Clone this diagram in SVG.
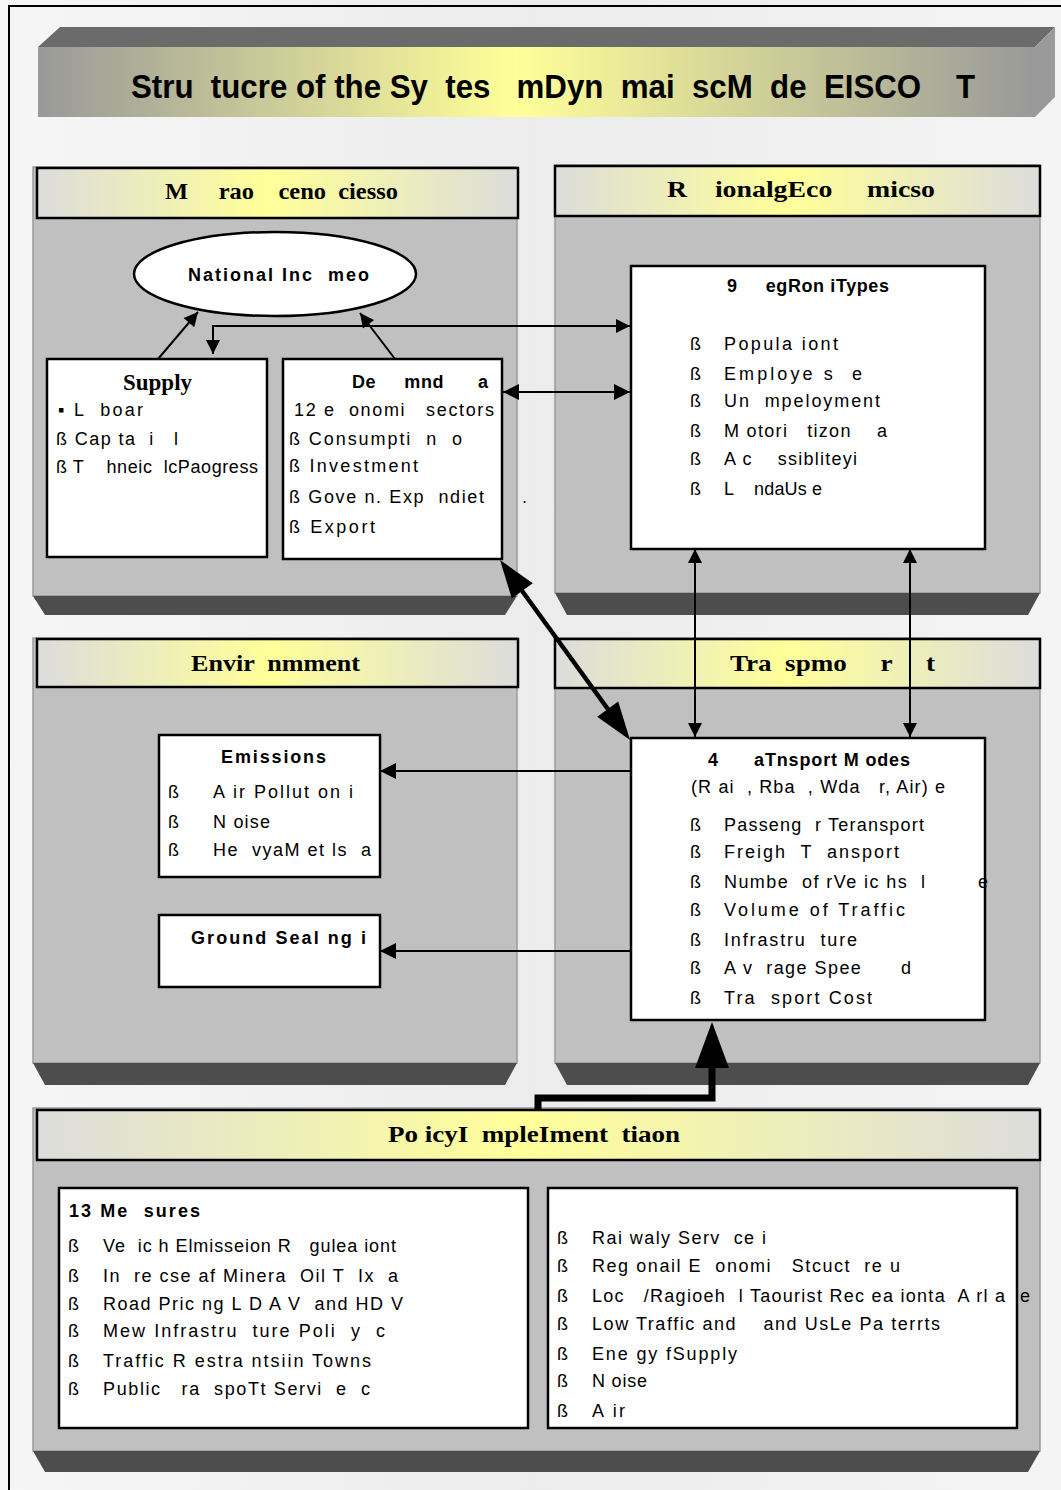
<svg xmlns="http://www.w3.org/2000/svg" width="1061" height="1490" viewBox="0 0 1061 1490" xml:space="preserve">
<style>
text { white-space: pre; }
.ttl { font-family: "Liberation Sans", Arial, sans-serif; font-weight: bold; font-size: 34px; fill: #000; }
.hdr { font-family: "Liberation Serif", "Times New Roman", serif; font-weight: bold; font-size: 24px; fill: #000; }
.t { font-family: "Liberation Sans", Arial, sans-serif; font-size: 18px; fill: #000; }
.tb { font-family: "Liberation Sans", Arial, sans-serif; font-size: 18px; font-weight: bold; fill: #000; }
.ts { font-family: "Liberation Serif", "Times New Roman", serif; font-size: 23px; font-weight: bold; fill: #000; }
.body { fill: #c0c0c0; stroke: #9a9a9a; stroke-width: 1.5; }
.hbar { fill: url(#hg); stroke: #000; stroke-width: 2.5; }
.shadow { fill: #4d4d4d; }
.box { fill: #fff; stroke: #000; stroke-width: 2.5; }
.ln { fill: none; stroke: #000; stroke-width: 2; }
</style>
<defs>
<linearGradient id="bg" x1="0" y1="0" x2="1" y2="0">
<stop offset="0" stop-color="#f6f6f6"/><stop offset="0.5" stop-color="#ececec"/><stop offset="1" stop-color="#f4f4f4"/>
</linearGradient>
<linearGradient id="hg" x1="0" y1="0" x2="1" y2="0">
<stop offset="0" stop-color="#dcdcdc"/><stop offset="0.48" stop-color="#ffff99"/><stop offset="1" stop-color="#dcdcdc"/>
</linearGradient>
<linearGradient id="tg" x1="0" y1="0" x2="1" y2="0">
<stop offset="0" stop-color="#999999"/><stop offset="0.48" stop-color="#ffff99"/><stop offset="1" stop-color="#999999"/>
</linearGradient>
<marker id="ah" viewBox="0 0 10 10" refX="10" refY="5" markerWidth="18" markerHeight="14" markerUnits="userSpaceOnUse" orient="auto-start-reverse">
<path d="M0,0 L10,5 L0,10 z" fill="#000"/>
</marker>
<marker id="ahm" viewBox="0 0 10 10" refX="10" refY="5" markerWidth="20" markerHeight="16" markerUnits="userSpaceOnUse" orient="auto-start-reverse">
<path d="M0,0 L10,5 L0,10 z" fill="#000"/>
</marker>
</defs>

<rect x="0" y="0" width="1061" height="1490" fill="url(#bg)"/>
<path d="M9,1490 V6 H1061" fill="none" stroke="#000" stroke-width="2"/>

<g id="title">
<polygon points="38,47 60,27 1055,27 1035,47" fill="#6b6b6b"/>
<polygon points="1035,47 1055,27 1055,97 1035,117" fill="#9a9a9a"/>
<rect x="38" y="47" width="997" height="70" fill="url(#tg)"/>
<text class="ttl" x="131" y="98" textLength="844" lengthAdjust="spacingAndGlyphs">Stru  tucre of the Sy  tes   mDyn  mai  scM  de  EISCO    T</text>
</g>

<g id="panel-macro">
<rect class="body" x="33" y="167" width="484" height="429"/>
<polygon class="shadow" points="33,596 517,596 505,615 45,615"/>
<rect class="hbar" x="37" y="168" width="481" height="50"/>
<text class="hdr" x="165" y="199" textLength="233" lengthAdjust="spacingAndGlyphs">M     rao    ceno  ciesso</text>
</g>

<g id="panel-regional">
<rect class="body" x="555" y="165" width="485" height="428"/>
<polygon class="shadow" points="555,593 1040,593 1028,615 567,615"/>
<rect class="hbar" x="555" y="166" width="485" height="50"/>
<text class="hdr" x="667" y="197" textLength="268" lengthAdjust="spacingAndGlyphs">R    ionalgEco     micso</text>
</g>

<g id="panel-environment">
<rect class="body" x="33" y="638" width="484" height="425"/>
<polygon class="shadow" points="33,1063 517,1063 505,1085 45,1085"/>
<rect class="hbar" x="37" y="639" width="481" height="48"/>
<text class="hdr" x="191" y="671" textLength="169" lengthAdjust="spacingAndGlyphs">Envir  nmment</text>
</g>

<g id="panel-transport">
<rect class="body" x="555" y="638" width="485" height="425"/>
<polygon class="shadow" points="555,1063 1040,1063 1028,1085 567,1085"/>
<rect class="hbar" x="555" y="639" width="485" height="49"/>
<text class="hdr" x="730" y="671" textLength="205" lengthAdjust="spacingAndGlyphs">Tra  spmo     r     t</text>
</g>

<g id="panel-policy">
<rect class="body" x="33" y="1108" width="1007" height="343"/>
<polygon class="shadow" points="33,1451 1040,1451 1028,1472 45,1472"/>
<rect class="hbar" x="37" y="1110" width="1003" height="50"/>
<text class="hdr" x="388" y="1142" textLength="292" lengthAdjust="spacingAndGlyphs">Po icyI  mpleIment  tiaon</text>
</g>

<g id="national-income">
<ellipse cx="275" cy="274" rx="141" ry="42" fill="#fff" stroke="#000" stroke-width="2.5"/>
<text class="tb" x="188" y="281" textLength="181" lengthAdjust="spacing">National Inc  meo</text>
</g>

<g id="supply">
<rect class="box" x="47" y="359" width="220" height="198"/>
<text class="ts" x="123" y="390">Supply</text>
<text class="t" x="58" y="416" textLength="85" lengthAdjust="spacing">▪ L  boar</text>
<text class="t" x="56" y="445" textLength="122" lengthAdjust="spacing">ß Cap ta  i   l</text>
<text class="t" x="56" y="473" textLength="202" lengthAdjust="spacing">ß T    hneic  lcPaogress</text>
</g>

<g id="demand">
<rect class="box" x="283" y="359" width="219" height="200"/>
<text class="tb" x="352" y="388" textLength="136" lengthAdjust="spacing">De     mnd      a</text>
<text class="t" x="294" y="416" textLength="200" lengthAdjust="spacing">12 e  onomi   sectors</text>
<text class="t" x="289" y="445" textLength="173" lengthAdjust="spacing">ß Consumpti  n  o</text>
<text class="t" x="289" y="472" textLength="129" lengthAdjust="spacing">ß Investment</text>
<text class="t" x="289" y="503" textLength="195" lengthAdjust="spacing">ß Gove n. Exp  ndiet</text>
<text class="t" x="522" y="503">.</text>
<text class="t" x="289" y="533" textLength="86" lengthAdjust="spacing">ß Export</text>
</g>

<g id="region-types">
<rect class="box" x="631" y="266" width="354" height="283"/>
<text class="tb" x="727" y="292" textLength="162" lengthAdjust="spacing">9     egRon iTypes</text>
<text class="t" x="690" y="350">ß</text><text class="t" x="724" y="350" textLength="114" lengthAdjust="spacing">Popula iont</text>
<text class="t" x="690" y="380">ß</text><text class="t" x="724" y="380" textLength="138" lengthAdjust="spacing">Employe s  e</text>
<text class="t" x="690" y="407">ß</text><text class="t" x="724" y="407" textLength="156" lengthAdjust="spacing">Un  mpeloyment</text>
<text class="t" x="690" y="437">ß</text><text class="t" x="724" y="437" textLength="163" lengthAdjust="spacing">M otori   tizon    a</text>
<text class="t" x="690" y="465">ß</text><text class="t" x="724" y="465" textLength="133" lengthAdjust="spacing">A c    ssibliteyi</text>
<text class="t" x="690" y="495">ß</text><text class="t" x="724" y="495" textLength="98" lengthAdjust="spacing">L    ndaUs e</text>
</g>

<g id="emissions">
<rect class="box" x="159" y="735" width="221" height="142"/>
<text class="tb" x="221" y="763" textLength="105" lengthAdjust="spacing">Emissions</text>
<text class="t" x="168" y="798">ß</text><text class="t" x="213" y="798" textLength="140" lengthAdjust="spacing">A ir Pollut on i</text>
<text class="t" x="168" y="828">ß</text><text class="t" x="213" y="828" textLength="57" lengthAdjust="spacing">N oise</text>
<text class="t" x="168" y="856">ß</text><text class="t" x="213" y="856" textLength="158" lengthAdjust="spacing">He  vyaM et ls  a</text>
</g>

<g id="ground-sealing">
<rect class="box" x="159" y="915" width="221" height="72"/>
<text class="tb" x="191" y="944" textLength="175" lengthAdjust="spacing">Ground Seal ng i</text>
</g>

<g id="transport-modes">
<rect class="box" x="631" y="738" width="354" height="282"/>
<text class="tb" x="708" y="766" textLength="202" lengthAdjust="spacing">4      aTnsport M odes</text>
<text class="t" x="691" y="793" textLength="254" lengthAdjust="spacing">(R ai  , Rba  , Wda   r, Air) e</text>
<text class="t" x="690" y="831">ß</text><text class="t" x="724" y="831" textLength="200" lengthAdjust="spacing">Passeng  r Teransport</text>
<text class="t" x="690" y="858">ß</text><text class="t" x="724" y="858" textLength="175" lengthAdjust="spacing">Freigh  T  ansport</text>
<text class="t" x="690" y="888">ß</text><text class="t" x="724" y="888" textLength="264" lengthAdjust="spacing">Numbe  of rVe ic hs  l        e</text>
<text class="t" x="690" y="916">ß</text><text class="t" x="724" y="916" textLength="181" lengthAdjust="spacing">Volume of Traffic</text>
<text class="t" x="690" y="946">ß</text><text class="t" x="724" y="946" textLength="133" lengthAdjust="spacing">Infrastru  ture</text>
<text class="t" x="690" y="974">ß</text><text class="t" x="724" y="974" textLength="187" lengthAdjust="spacing">A v  rage Spee      d</text>
<text class="t" x="690" y="1004">ß</text><text class="t" x="724" y="1004" textLength="148" lengthAdjust="spacing">Tra  sport Cost</text>
</g>

<g id="measures">
<rect class="box" x="59" y="1188" width="469" height="240"/>
<text class="tb" x="69" y="1217" textLength="131" lengthAdjust="spacing">13 Me  sures</text>
<text class="t" x="68" y="1252">ß</text><text class="t" x="103" y="1252" textLength="293" lengthAdjust="spacing">Ve  ic h Elmisseion R   gulea iont</text>
<text class="t" x="68" y="1282">ß</text><text class="t" x="103" y="1282" textLength="295" lengthAdjust="spacing">In  re cse af Minera  Oil T  Ix  a</text>
<text class="t" x="68" y="1310">ß</text><text class="t" x="103" y="1310" textLength="300" lengthAdjust="spacing">Road Pric ng L D A V  and HD V</text>
<text class="t" x="68" y="1337">ß</text><text class="t" x="103" y="1337" textLength="282" lengthAdjust="spacing">Mew Infrastru  ture Poli  y  c</text>
<text class="t" x="68" y="1367">ß</text><text class="t" x="103" y="1367" textLength="268" lengthAdjust="spacing">Traffic R estra ntsiin Towns</text>
<text class="t" x="68" y="1395">ß</text><text class="t" x="103" y="1395" textLength="267" lengthAdjust="spacing">Public   ra  spoTt Servi  e  c</text>
</g>

<g id="impacts">
<rect class="box" x="548" y="1188" width="469" height="240"/>
<text class="t" x="557" y="1244">ß</text><text class="t" x="592" y="1244" textLength="174" lengthAdjust="spacing">Rai waly Serv  ce i</text>
<text class="t" x="557" y="1272">ß</text><text class="t" x="592" y="1272" textLength="308" lengthAdjust="spacing">Reg onail E  onomi   Stcuct  re u</text>
<text class="t" x="557" y="1302">ß</text><text class="t" x="592" y="1302" textLength="413" lengthAdjust="spacing">Loc   /Ragioeh  l Taourist Rec ea ionta  A rl a</text>
<text class="t" x="1020" y="1302">e</text>
<text class="t" x="557" y="1330">ß</text><text class="t" x="592" y="1330" textLength="348" lengthAdjust="spacing">Low Traffic and    and UsLe Pa terrts</text>
<text class="t" x="557" y="1360">ß</text><text class="t" x="592" y="1360" textLength="145" lengthAdjust="spacing">Ene gy fSupply</text>
<text class="t" x="557" y="1387">ß</text><text class="t" x="592" y="1387" textLength="55" lengthAdjust="spacing">N oise</text>
<text class="t" x="557" y="1417">ß</text><text class="t" x="592" y="1417" textLength="33" lengthAdjust="spacing">A ir</text>
</g>

<g id="connectors">
<line class="ln" x1="158" y1="359" x2="198" y2="312" marker-end="url(#ah)"/>
<line class="ln" x1="395" y1="359" x2="360" y2="313" marker-end="url(#ah)"/>
<path class="ln" d="M213,354 V326 H630" marker-start="url(#ah)" marker-end="url(#ah)"/>
<line class="ln" x1="503" y1="392" x2="630" y2="392" stroke-width="2.5" marker-start="url(#ahm)" marker-end="url(#ahm)"/>
<line class="ln" x1="695" y1="549" x2="695" y2="737" marker-start="url(#ah)" marker-end="url(#ah)"/>
<line class="ln" x1="910" y1="549" x2="910" y2="737" marker-start="url(#ah)" marker-end="url(#ah)"/>
<line class="ln" x1="631" y1="771" x2="380" y2="771" marker-end="url(#ahm)"/>
<line class="ln" x1="631" y1="951" x2="380" y2="951" marker-end="url(#ahm)"/>
<line x1="520" y1="588" x2="610" y2="712" stroke="#000" stroke-width="4.5"/>
<polygon points="500,560 511.8,598.4 532.8,583.2" fill="#000"/>
<polygon points="630,740 597.2,716.8 618.2,701.6" fill="#000"/>
<path d="M538,1110 V1098 H712 V1064" fill="none" stroke="#000" stroke-width="7"/>
<polygon points="712,1022 695,1068 729,1068" fill="#000"/>
</g>
</svg>
